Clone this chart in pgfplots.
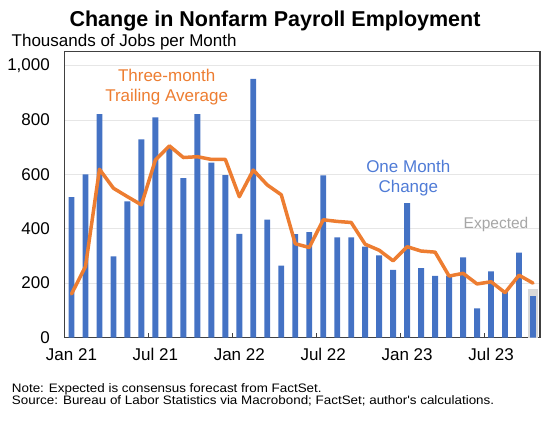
\documentclass[border=0pt]{standalone}
\usepackage{fontspec}
\setmainfont{Liberation Sans}
\usepackage{pgfplots}
\usepackage{pgfplotstable}
\pgfplotsset{compat=1.18}
\definecolor{barblue}{HTML}{4472C4}
\definecolor{lineorange}{HTML}{ED7D31}
\definecolor{expgray}{HTML}{D9D9D9}
\definecolor{framegray}{HTML}{404040}
\definecolor{gridgray}{HTML}{E6E6E6}
\definecolor{labelblue}{HTML}{4F7BD6}
\definecolor{exptext}{HTML}{A6A6A6}

\pgfplotstableread{
x bar avg
0.5 516 160
1.5 600 261
2.5 822 619
3.5 298 549
4.5 501 518
5.5 729 488
6.5 810 653
7.5 700 705
8.5 586 662
9.5 822 665
10.5 643 655
11.5 597 655
12.5 381 518
13.5 951 616
14.5 434 561
15.5 264 525
16.5 380 345
17.5 388 331
18.5 596 433
19.5 368 427
20.5 368 423
21.5 334 343
22.5 302 321
23.5 249 282
24.5 494 334
25.5 255 318
26.5 227 314
27.5 228 226
28.5 295 236
29.5 107 197
30.5 243 205
31.5 167 165
32.5 312 229
33.5 152 200
}\datatable

\begin{document}
\begin{tikzpicture}
\path[use as bounding box] (-64.5bp,-85.5bp) rectangle (495.5bp,337.5bp);
\begin{axis}[
  at={(0,0)}, anchor=south west,
  scale only axis, width=475.5bp, height=286bp,
  xmin=0, xmax=34, ymin=0, ymax=1052,
  axis line style={framegray, line width=1.2bp},
  ytick={0,200,...,1000},
  ymajorgrids, grid style={gridgray, line width=0.8bp},
  xtick={0.5,6.5,12.5,18.5,24.5,30.5},
  xticklabels={Jan 21,Jul 21,Jan 22,Jul 22,Jan 23,Jul 23},
  major tick length=0pt,
  tick align=inside,
  xtick pos=bottom, ytick pos=left,
  extra x ticks={6,12,18,24,30},
  extra x tick labels={},
  extra x tick style={major tick length=4bp, tick style={framegray, line width=1bp}},
  /pgf/number format/assume math mode=true,
  /pgf/number format/1000 sep={,},
  ticklabel style={font=\fontsize{17bp}{20bp}\selectfont, text=black},
  yticklabel style={anchor=east, inner sep=0pt, xshift=-14.5bp},
  xticklabel style={anchor=base, inner sep=0pt, yshift=-23.2bp},
]
\addplot[ybar, bar width=0.66, bar shift=0pt, fill=expgray, draw=none] coordinates {(33.5,177)};
\addplot[ybar, bar width=0.42, bar shift=0pt, fill=barblue, draw=none] table[x=x,y=bar]{\datatable};
\addplot[lineorange, line width=3.5bp, line join=round, line cap=round, mark=none] table[x=x,y=avg]{\datatable};
\end{axis}
\node[anchor=base, inner sep=0pt, font=\fontsize{21.5bp}{24bp}\selectfont\bfseries] at (210.5bp,310.7bp) {Change in Nonfarm Payroll Employment};
\node[anchor=base west, inner sep=0pt, font=\fontsize{17bp}{20bp}\selectfont] at (-53bp,291.1bp) {Thousands of Jobs per Month};
\node[anchor=base, inner sep=0pt, text=lineorange, font=\fontsize{17bp}{20bp}\selectfont] at (102.2bp,255.8bp) {Three-month};
\node[anchor=base, inner sep=0pt, text=lineorange, font=\fontsize{17bp}{20bp}\selectfont] at (102.2bp,235.8bp) {Trailing Average};
\node[anchor=base, inner sep=0pt, text=labelblue, font=\fontsize{17bp}{20bp}\selectfont] at (343.8bp,165.2bp) {One Month};
\node[anchor=base, inner sep=0pt, text=labelblue, font=\fontsize{17bp}{20bp}\selectfont] at (343.8bp,144.8bp) {Change};
\node[anchor=base, inner sep=0pt, text=exptext, font=\fontsize{15.5bp}{18bp}\selectfont] at (431.5bp,109.2bp) {Expected};
\node[anchor=base west, inner sep=0pt, xscale=1.09, font=\fontsize{12.3bp}{14bp}\selectfont] at (-52.8bp,-54.8bp) {Note: Expected is consensus forecast from FactSet.};
\node[anchor=base west, inner sep=0pt, xscale=1.09, font=\fontsize{12.3bp}{14bp}\selectfont] at (-52.8bp,-67.0bp) {Source: Bureau of Labor Statistics via Macrobond; FactSet; author\textquotesingle s calculations.};
\end{tikzpicture}
\end{document}
